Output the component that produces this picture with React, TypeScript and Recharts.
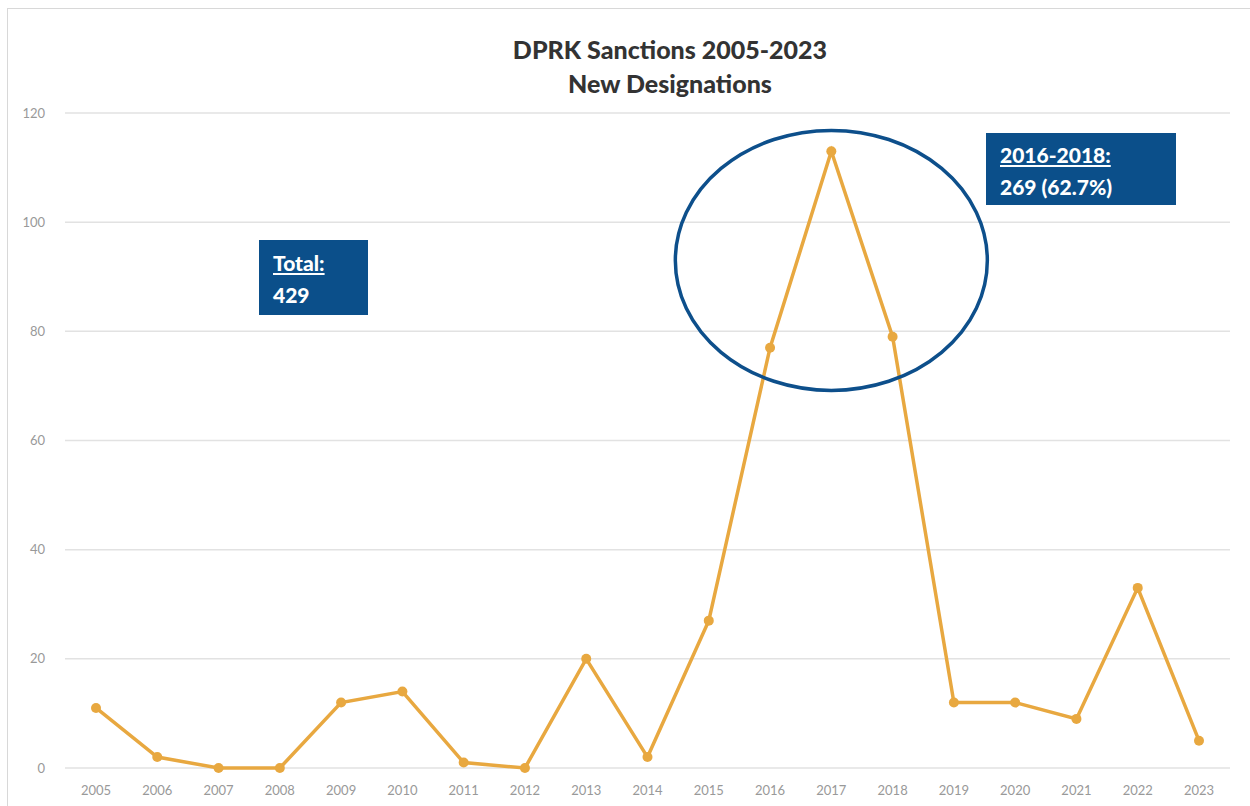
import React from "react"
import { LineChart, Line, XAxis, YAxis, CartesianGrid, ReferenceDot } from "recharts"

const years = ["2005", "2006", "2007", "2008", "2009", "2010", "2011", "2012", "2013", "2014", "2015", "2016", "2017", "2018", "2019", "2020", "2021", "2022", "2023"]
const designations = [11, 2, 0, 0, 12, 14, 1, 0, 20, 2, 27, 77, 113, 79, 12, 12, 9, 33, 5]
const yTicks = [0, 20, 40, 60, 80, 100, 120]

const chartData = years.map((year, i) => ({ year, value: designations[i] }))

const boxStyle: React.CSSProperties = {
  position: "absolute",
  background: "#0b4f8a",
  color: "#ffffff",
  fontFamily: "Lato, 'Open Sans', sans-serif",
  fontWeight: 900,
  fontSize: 21,
  lineHeight: "32px",
  boxSizing: "border-box",
}

// circle around the 2016-2018 peak
const Ellipse = (props: any) => {
  const { cx, cy } = props
  return <ellipse cx={cx} cy={cy} rx={156} ry={130} fill="none" stroke="#0d4f8b" strokeWidth={3.5} />
}

export default function App() {
  return (
    <div style={{ position: "absolute", left: 0, top: 0, width: 1250, height: 806, background: "#fff", overflow: "hidden" }}>
      <div style={{ position: "absolute", left: 7, top: 8, width: 1260, height: 820, border: "1px solid #d8d8d8" }} />
      <div
        style={{
          position: "absolute",
          left: 0,
          width: 1340,
          top: 32,
          textAlign: "center",
          fontFamily: "Lato, 'Open Sans', sans-serif",
          fontWeight: 900,
          fontSize: 25,
          lineHeight: "34px",
          color: "#333333",
        }}
      >
        <div>DPRK Sanctions 2005-2023</div>
        <div>New Designations</div>
      </div>
      <LineChart width={1250} height={806} data={chartData} margin={{ top: 113, right: 20, bottom: 8, left: 15 }}>
        <CartesianGrid horizontal={true} vertical={false} stroke="#e2e2e2" strokeWidth={1.5} />
        <XAxis
          dataKey="year"
          axisLine={false}
          tickLine={false}
          height={30}
          interval={0}
          padding={{ left: 31, right: 31 }}
          tick={{ fill: "#999999", fontSize: 13, fontFamily: "Lato, sans-serif" }}
          tickMargin={12}
        />
        <YAxis
          domain={[0, 120]}
          ticks={yTicks}
          axisLine={false}
          tickLine={false}
          width={50}
          tickMargin={14}
          tick={{ fill: "#999999", fontSize: 13, fontFamily: "Lato, sans-serif" }}
        />
        <Line
          type="linear"
          dataKey="value"
          stroke="#e8a840"
          strokeWidth={3.5}
          dot={{ r: 5, fill: "#e8a840", stroke: "#e8a840", strokeWidth: 0 }}
          activeDot={false}
          isAnimationActive={false}
        />
        <ReferenceDot x="2017" y={93} shape={Ellipse} />
      </LineChart>
      <div style={{ ...boxStyle, left: 259, top: 240, width: 109, height: 75, padding: "7px 14px" }}>
        <div style={{ textDecoration: "underline" }}>Total:</div>
        <div>429</div>
      </div>
      <div style={{ ...boxStyle, left: 986, top: 133, width: 190, height: 72, padding: "6px 14px" }}>
        <div style={{ textDecoration: "underline" }}>2016-2018:</div>
        <div>269 (62.7%)</div>
      </div>
    </div>
  )
}
